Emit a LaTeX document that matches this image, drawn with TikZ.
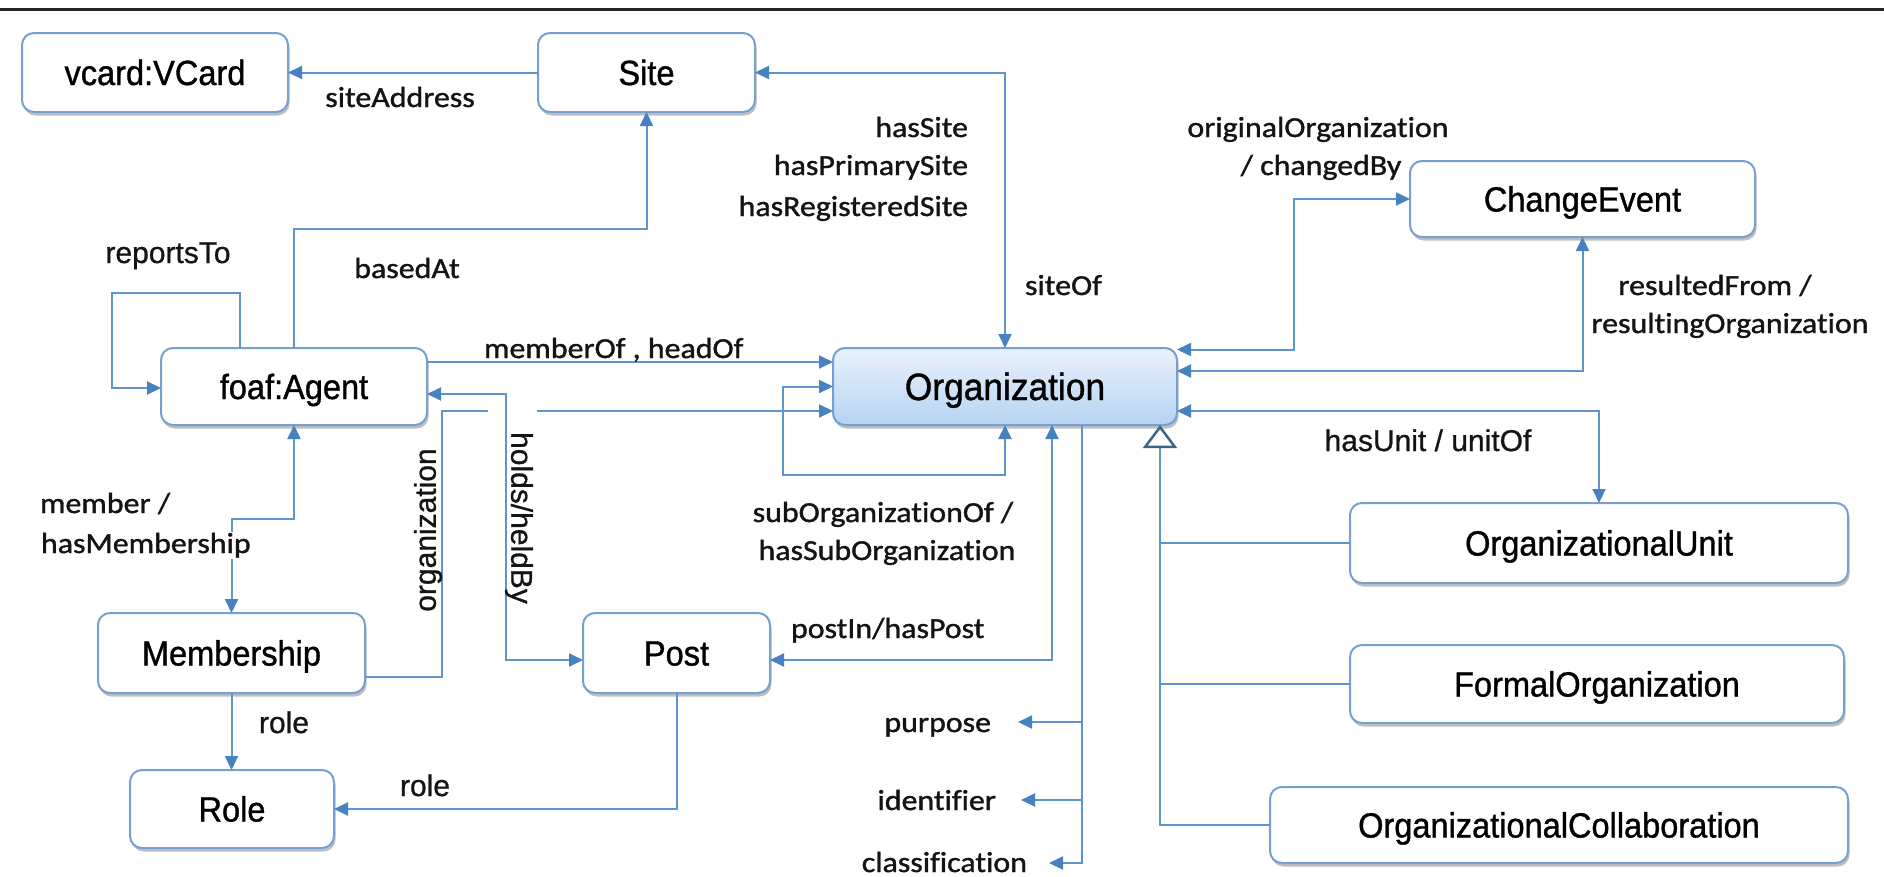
\documentclass[tikz,border=0pt]{standalone}
\usepackage{fontspec}
\newfontfamily\nodefont[FakeStretch=0.93,FakeBold=1]{Liberation Sans}
\newfontfamily\lblfont[FakeStretch=1.1,FakeBold=1.2,Ligatures=NoCommon]{Carlito}
\newfontfamily\lblafont[FakeBold=0.8]{Liberation Sans}
\usetikzlibrary{arrows.meta,shadows}
\definecolor{boxblue}{RGB}{118,160,208}
\definecolor{lineblue}{RGB}{95,148,204}
\definecolor{tipblue}{RGB}{70,130,192}
\definecolor{trig}{RGB}{62,100,140}
\definecolor{orgtop}{RGB}{234,242,252}
\definecolor{orgbot}{RGB}{182,211,242}
\definecolor{txt}{RGB}{20,20,20}
\begin{document}
\begin{tikzpicture}[x=1pt,y=-1pt,
 >={Triangle[length=14pt,width=13pt,color=tipblue]},
 box/.style={draw=boxblue, line width=2pt, rounded corners=12pt, fill=white,
   inner sep=0pt, outer sep=0pt, text height=25pt, text depth=0pt,
   font=\nodefont\fontsize{35}{40}\selectfont, text=black,
   drop shadow={shadow xshift=1.5pt, shadow yshift=-3.5pt, opacity=0.25, fill=black}},
 lblc/.style={font=\lblfont\fontsize{29}{39}\selectfont, text=txt, inner sep=0pt, outer sep=0pt},
 lbla/.style={font=\lblafont\fontsize{30}{39}\selectfont, text=txt, inner sep=0pt, outer sep=0pt},
 conn/.style={draw=lineblue, line width=2pt}
]
\useasboundingbox (0,0) rectangle (1884,876);
\fill[white] (0,0) rectangle (1884,876);
\draw[line width=3pt, black!85] (0,9) -- (1884,9);

% nodes
\node[box, minimum width=266pt, minimum height=79pt] (vcard) at (155,72.5) {vcard:VCard};
\node[box, minimum width=217pt, minimum height=79pt] (site) at (646.5,72.5) {Site};
\node[box, minimum width=266pt, minimum height=77pt] (foaf) at (294,386.5) {foaf:Agent};
\node[box, minimum width=344pt, minimum height=77pt, top color=orgtop, bottom color=orgbot,
  text height=27pt, font=\nodefont\fontsize{38}{42}\selectfont] (org) at (1005,386.5) {Organization};
\node[box, minimum width=345pt, minimum height=76pt] (change) at (1582.5,199) {ChangeEvent};
\node[box, minimum width=267pt, minimum height=80pt] (membership) at (231.5,653) {Membership};
\node[box, minimum width=204pt, minimum height=78pt] (role) at (232,809) {Role};
\node[box, minimum width=187pt, minimum height=80pt] (post) at (676.5,653) {Post};
\node[box, minimum width=498pt, minimum height=80pt] (orgunit) at (1599,543) {OrganizationalUnit};
\node[box, minimum width=494pt, minimum height=78pt] (formal) at (1597,684) {FormalOrganization};
\node[box, minimum width=578pt, minimum height=76pt] (collab) at (1559,825) {OrganizationalCollaboration};

% connectors
\draw[conn,->] (site.west) -- (vcard.east);
\draw[conn,->] (foaf.north) -- (foaf.north |- 0,229) -| (site.south);
\draw[conn,->] ([xshift=-54pt]foaf.north) |- (112,293) |- ([yshift=-1.5pt]foaf.west);
\draw[conn,->] ([yshift=24.5pt]foaf.east) -- ([yshift=24.5pt]org.west);
\draw[conn,->] ([yshift=-24pt]membership.east) -| (442,411) -- ([yshift=-24.5pt]org.west);
\draw[white, line width=6pt] (488,411) -- (537,411);
\draw[conn,<->] ([yshift=-7.5pt]foaf.east) -| (506,660) -- ([yshift=-7pt]post.west);
\draw[conn,<->] (membership.north) |- (foaf.south |- 0,519) -- (foaf.south);
\draw[conn,->] (membership.south) -- (membership.south |- role.north);
\draw[conn,->] (post.south) |- (role.east);
\draw[conn,<->] ([xshift=47pt]org.south) |- ([yshift=-7pt]post.east);
\draw[conn,<->] (org.south) |- (783,475) |- (org.west);
\draw[conn,<->] (org.north) |- (site.east);
\draw[conn,<->] ([yshift=37pt]org.east) -| (1294,199) -- (change.west);
\draw[conn,<->] ([yshift=15.5pt]org.east) -| (change.south);
\draw[conn,<->] ([yshift=-24.5pt]org.east) -| (orgunit.north);

% generalization
\coordinate (gtop) at ([xshift=155pt]org.south);
\draw[conn, {Triangle[length=23pt,width=34pt,fill=white,color=trig,line width=2.5pt]}-] (gtop) |- (collab.west);
\draw[conn] (gtop |- orgunit.west) -- (orgunit.west);
\draw[conn] (gtop |- formal.west) -- (formal.west);

% attributes
\coordinate (ax) at ([xshift=77pt]org.south);
\coordinate (tPurpose) at (1018,722);
\coordinate (tIdent) at (1021,800);
\coordinate (tClass) at (1049,863);
\draw[conn,->] (ax) |- (tClass);
\draw[conn,->] (ax |- tPurpose) -- (tPurpose);
\draw[conn,->] (ax |- tIdent) -- (tIdent);

% labels
\node[lblc, anchor=base] (lSiteAddr) at (400,107) {siteAddress};
\node[lblc, anchor=base] (lBased) at (407,278) {basedAt};
\node[lbla, anchor=base] (lReports) at (168,263) {reportsTo};
\node[lblc, anchor=base west] (lMemberOf) at (484,358) {memberOf , headOf};
\node[lblc, anchor=base east] (lHasSite) at (968,137) {hasSite};
\node[lblc, anchor=base east] (lHasPrim) at (968,175) {hasPrimarySite};
\node[lblc, anchor=base east] (lHasReg) at (968,216) {hasRegisteredSite};
\node[lblc, anchor=base west] (lSiteOf) at (1025,295) {siteOf};
\node[lblc, anchor=base] (lOrigOrg) at (1318,137) {originalOrganization};
\node[lblc, anchor=base] (lChanged) at (1321,175) {/ changedBy};
\node[lblc, anchor=base] (lResFrom) at (1715,295) {resultedFrom /};
\node[lblc, anchor=base] (lResOrg) at (1730,333) {resultingOrganization};
\node[lbla, anchor=base] (lHasUnit) at (1428,451) {hasUnit / unitOf};
\node[lblc, anchor=base west] (lMember) at (40,513) {member /};
\node[lblc, anchor=base west, fill=white, inner sep=1pt] (lHasMem) at (40,553) {hasMembership};
\node[lbla, anchor=base west] (lRole1) at (259,733) {role};
\node[lbla, anchor=base west] (lRole2) at (400,796) {role};
\node[lbla, rotate=90] (lOrgn) at (428,530) {organization};
\node[lbla, rotate=-90] (lHolds) at (519,518) {holds/heldBy};
\node[lblc, anchor=base] (lSubOf) at (883,522) {subOrganizationOf /};
\node[lblc, anchor=base] (lHasSub) at (887,560) {hasSubOrganization};
\node[lblc, anchor=base west] (lPostIn) at (791,638) {postIn/hasPost};
\node[lblc, anchor=base east] (lPurpose) at (991,732) {purpose};
\node[lblc, anchor=base east] (lIdent) at (996,810) {identifier};
\node[lblc, anchor=base east] (lClass) at (1027,872) {classification};
\end{tikzpicture}
\end{document}
